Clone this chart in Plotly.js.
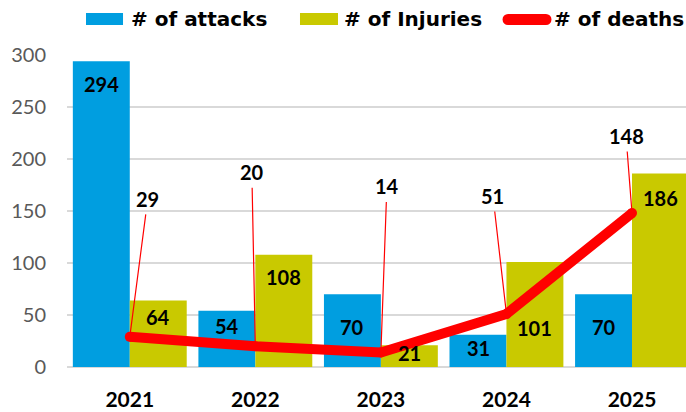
<!DOCTYPE html>
<html>
<head>
<meta charset="utf-8">
<script src="https://cdn.plot.ly/plotly-3.0.1.min.js"></script>
<style>
html,body{margin:0;padding:0;overflow:hidden;background:#fff;}
#chart{width:686px;height:412px;}
</style>
</head>
<body>
<div id="chart"></div>
<script>
// ---- data ----
const years = ['2021', '2022', '2023', '2024', '2025'];
const attacks = [294, 54, 70, 31, 70];
const injuries = [64, 108, 21, 101, 186];
const deaths = [29, 20, 14, 51, 148];
const seriesNames = ['# of attacks', '# of Injuries', '# of deaths'];
const yTicks = [0, 50, 100, 150, 200, 250, 300];

// ---- styling / label placement (px) ----
const colors = ['#009EE0', '#C9C900', '#FF0000'];
const attackDrop = [23, 15, 33, 13, 33];
const injuryDrop = [17, 22, 8, 66, 24];
const deathLabelOffset = [[18, -138], [-3.5, -174], [6, -166], [-13.5, -118], [-6, -77]];
const halfBar = 28.4;

const numFont = {family: 'Lato, sans-serif', size: 20, color: '#000', weight: 'bold'};

const traces = [
  {type: 'bar', x: years, y: attacks, name: seriesNames[0], marker: {color: colors[0]}, showlegend: false, hoverinfo: 'none'},
  {type: 'bar', x: years, y: injuries, name: seriesNames[1], marker: {color: colors[1]}, showlegend: false, hoverinfo: 'none'},
  {type: 'scatter', mode: 'lines+markers', x: years, y: deaths, name: seriesNames[2],
   line: {color: colors[2], width: 10}, marker: {color: colors[2], size: 10}, showlegend: false, hoverinfo: 'none'}
];

const annotations = [];
years.forEach((yr, i) => {
  annotations.push({x: i, y: attacks[i], xref: 'x', yref: 'y', text: String(attacks[i]), showarrow: false,
    xshift: -halfBar, yshift: -attackDrop[i], yanchor: 'middle', font: numFont});
  annotations.push({x: i, y: injuries[i], xref: 'x', yref: 'y', text: String(injuries[i]), showarrow: false,
    xshift: halfBar, yshift: -injuryDrop[i], yanchor: 'middle', font: numFont});
  annotations.push({x: i, y: deaths[i], xref: 'x', yref: 'y', text: String(deaths[i]), showarrow: true,
    arrowhead: 0, arrowwidth: 1.2, arrowcolor: colors[2], standoff: 0, startstandoff: 2,
    ax: deathLabelOffset[i][0], ay: deathLabelOffset[i][1], font: numFont});
});

// ---- custom legend ----
const legFont = {family: 'DejaVu Sans, sans-serif', size: 20, color: '#000', weight: 'bold'};
const shapes = [
  {type: 'rect', xref: 'paper', yref: 'paper', x0: 0.0307, x1: 0.0905, y0: 1.0962, y1: 1.1346, fillcolor: colors[0], line: {width: 0}},
  {type: 'rect', xref: 'paper', yref: 'paper', x0: 0.3764, x1: 0.4378, y0: 1.0962, y1: 1.1346, fillcolor: colors[1], line: {width: 0}},
  {type: 'line', xref: 'paper', yref: 'paper', x0: 0.7125, x1: 0.7738, y0: 1.1138, y1: 1.1138, line: {color: colors[2], width: 11}},
  {type: 'circle', xref: 'paper', yref: 'paper', x0: 0.7036, x1: 0.7214, y0: 1.0962, y1: 1.1314, fillcolor: colors[2], line: {width: 0}},
  {type: 'circle', xref: 'paper', yref: 'paper', x0: 0.7649, x1: 0.7827, y0: 1.0962, y1: 1.1314, fillcolor: colors[2], line: {width: 0}}
];
[0.1002, 0.4443, 0.7835].forEach((px, k) => {
  annotations.push({xref: 'paper', yref: 'paper', x: px, y: 1.1138, xanchor: 'left', yanchor: 'middle',
    text: seriesNames[k], showarrow: false, font: legFont});
});

const layout = {
  width: 686, height: 412,
  margin: {l: 67, r: 0, t: 55, b: 45},
  paper_bgcolor: '#fff', plot_bgcolor: '#fff',
  barmode: 'group', bargap: 0.093, bargroupgap: 0,
  showlegend: false,
  xaxis: {type: 'category', range: [-0.5, 4.43], showgrid: false, zeroline: false, showline: false,
    ticks: '', tickfont: {family: 'Lato, sans-serif', size: 21, color: '#000', weight: 'bold'}, ticklabelstandoff: 18,
    fixedrange: true},
  yaxis: {range: [0, 300], tickvals: yTicks, ticktext: yTicks.map(String), showgrid: true, gridcolor: '#D9D9D9', gridwidth: 1.5,
    zeroline: true, zerolinecolor: '#D9D9D9', zerolinewidth: 1.5, showline: false, ticks: '',
    tickfont: {family: 'Lato, sans-serif', size: 20, color: '#595959'}, ticklabelstandoff: 20, fixedrange: true},
  shapes: shapes,
  annotations: annotations
};

Plotly.newPlot('chart', traces, layout, {displayModeBar: false, staticPlot: true});
</script>
</body>
</html>
